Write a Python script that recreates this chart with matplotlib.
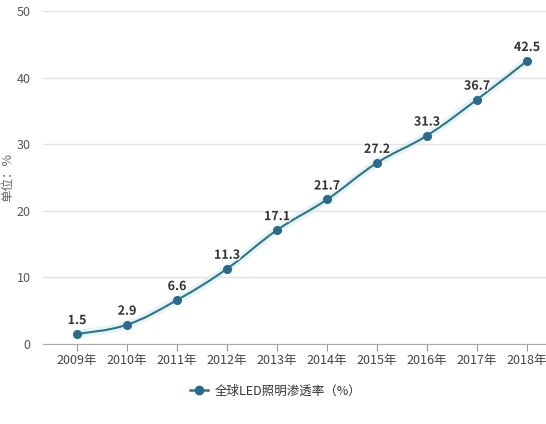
import matplotlib
matplotlib.use("Agg")
import matplotlib.pyplot as plt
from matplotlib.path import Path
from matplotlib.patches import PathPatch
from matplotlib.lines import Line2D
import matplotlib.patheffects as pe
import numpy as np

plt.rcParams['font.family'] = ['Noto Sans CJK SC', 'DejaVu Sans']

years = ['2009年', '2010年', '2011年', '2012年', '2013年', '2014年', '2015年', '2016年', '2017年', '2018年']
values = [1.5, 2.9, 6.6, 11.3, 17.1, 21.7, 27.2, 31.3, 36.7, 42.5]
series_name = '全球LED照明渗透率（%）'
y_label = '单位：%'
y_ticks = [0, 10, 20, 30, 40, 50]

W, H = 546, 424
fig = plt.figure(figsize=(W / 100, H / 100), dpi=100)
ax = fig.add_axes([43 / W, (H - 344) / H, (W - 43) / W, 333 / H])

x = np.arange(len(values))
y = np.array(values, dtype=float)

# smooth path (Bezier through data points)
verts = [(x[0], y[0])]
codes = [Path.MOVETO]
s = 0.2
for i in range(len(x) - 1):
    p0 = (x[max(i - 1, 0)], y[max(i - 1, 0)])
    p1 = (x[i], y[i])
    p2 = (x[i + 1], y[i + 1])
    p3 = (x[min(i + 2, len(x) - 1)], y[min(i + 2, len(x) - 1)])
    c1 = (p1[0] + (p2[0] - p0[0]) * s, p1[1] + (p2[1] - p0[1]) * s)
    c2 = (p2[0] - (p3[0] - p1[0]) * s, p2[1] - (p3[1] - p1[1]) * s)
    verts += [c1, c2, p2]
    codes += [Path.CURVE4] * 3

line_color = '#357482'
marker_color = '#2d6a8a'
glow = PathPatch(Path(verts, codes), facecolor='none', edgecolor='#d2eef3', lw=6, alpha=0.6, zorder=2)
ax.add_patch(glow)
patch = PathPatch(Path(verts, codes), facecolor='none', edgecolor=line_color, lw=1.5, zorder=3)
ax.add_patch(patch)
ax.plot(x, y, linestyle='none', marker='o', ms=5.5, color=marker_color, zorder=4)

for xi, yi in zip(x, y):
    ax.annotate(f'{yi:g}', (xi, yi), xytext=(0, 5), textcoords='offset points',
                ha='center', va='bottom', fontsize=9, fontweight='bold', color='#333333',
                path_effects=[pe.withStroke(linewidth=2, foreground='white')], zorder=5)

ax.set_xlim(-0.68, 9.38)
ax.set_ylim(0, 50)
ax.set_yticks(y_ticks)
ax.set_xticks(x)
ax.set_xticklabels(years)
ax.tick_params(axis='y', length=0, labelsize=9, labelcolor='#555555', pad=9)
ax.tick_params(axis='x', length=5, color='#999999', labelsize=9, labelcolor='#444444', pad=2)
ax.grid(axis='y', color='#e2e2e2', lw=1)
ax.set_axisbelow(True)
for sp in ['top', 'right', 'left']:
    ax.spines[sp].set_visible(False)
ax.spines['bottom'].set_color('#aaaaaa')

fig.text(8 / W, 1 - 178 / H, y_label, rotation=90, ha='center', va='center',
         fontsize=9, color='#666666')

# legend
handle = Line2D([], [], color=line_color, lw=1.8, marker='o', ms=6,
                markerfacecolor=marker_color, markeredgecolor=marker_color)
fig.legend([handle], [series_name], loc='center', bbox_to_anchor=(276 / W, 1 - 391 / H),
           frameon=False, fontsize=9, handlelength=1.4, handletextpad=0.6,
           labelcolor='#333333')

fig.savefig('out.png', dpi=100)
